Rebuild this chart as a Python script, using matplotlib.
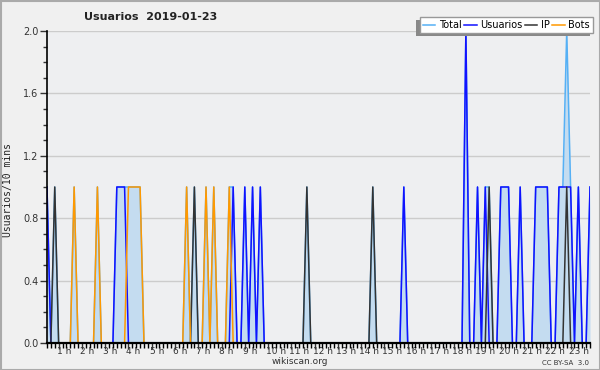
import numpy as np
import matplotlib
matplotlib.use("Agg")
import matplotlib.pyplot as plt
from matplotlib.patches import Rectangle
from matplotlib.transforms import ScaledTranslation

# ---- data (10-minute slots starting 00:30, 141 points) ----
n_slots = 141
start_hour = 0.5
usuarios_ones = [0, 18, 19, 20, 48, 51, 53, 55, 92, 111, 113, 117, 118, 119,
                 122, 126, 127, 128, 129, 132, 133, 134, 135, 137, 140]
usuarios_twos = [108]
ip_ones = [2, 38, 67, 84, 114, 134]
bots_ones = [7, 13, 21, 22, 23, 24, 36, 41, 43, 47]
hour_ticks = list(range(1, 24))
hour_labels = [f"{h} h" for h in hour_ticks]
y_ticks = [0.0, 0.4, 0.8, 1.2, 1.6, 2.0]

usuarios = np.zeros(n_slots)
usuarios[usuarios_ones] = 1
usuarios[usuarios_twos] = 2
ip = np.zeros(n_slots)
ip[ip_ones] = 1
bots = np.zeros(n_slots)
bots[bots_ones] = 1
total = usuarios + ip + bots
x = start_hour + np.arange(n_slots) / 6.0

c_total = "#55b0f5"
c_users = "#1111ff"
c_ip = "#333333"
c_bots = "#ff9900"

fig = plt.figure(figsize=(6, 3.7), dpi=100, facecolor="#f0f0f0")
ax = fig.add_axes([47 / 600, 27 / 370, 543 / 600, 312 / 370])
ax.set_facecolor("#eeeff1")

ax.fill_between(x, 0, total, color="#c4dcf0", lw=0, zorder=1)
ax.plot(x, total, color=c_total, lw=1.1, label="Total", zorder=3)
ax.plot(x, usuarios, color=c_users, lw=1.1, label="Usuarios", zorder=4)
ax.plot(x, ip, color=c_ip, lw=1.1, label="IP", zorder=5)
ax.plot(x, bots, color=c_bots, lw=1.1, label="Bots", zorder=6)

ax.set_xlim(x[0], x[-1])
ax.set_ylim(0, 2.0)
for sp in ("top", "right"):
    ax.spines[sp].set_visible(False)
ax.spines["left"].set_linewidth(1.2)
ax.spines["bottom"].set_linewidth(1.6)
for sp in ("left", "bottom"):
    ax.spines[sp].set_color("black")
    ax.spines[sp].set_zorder(10)

ax.set_yticks(y_ticks)
ax.set_yticklabels([f"{v:.1f}" for v in y_ticks])
ax.set_yticks(np.arange(0, 2.01, 0.1), minor=True)
ax.grid(axis="y", which="major", color="#cccccc", lw=1, zorder=0)
ax.set_axisbelow(True)

ax.set_xticks(hour_ticks)
ax.set_xticklabels(hour_labels)
ax.set_xticks(x, minor=True)
ax.tick_params(axis="y", which="major", length=5, width=1, labelsize=7,
               colors="#333333", pad=1)
ax.tick_params(axis="y", which="minor", length=3, width=1, color="#333333")
ax.tick_params(axis="x", which="major", length=4.5, width=1, labelsize=6.5,
               colors="#333333", pad=-1.5)
ax.tick_params(axis="x", which="minor", length=3.5, width=1, color="black")
off = ScaledTranslation(-1.5 / 72, 0, fig.dpi_scale_trans)
for lab in ax.get_xticklabels():
    lab.set_horizontalalignment("left")
    lab.set_transform(lab.get_transform() + off)

fig.text(151 / 600, 1 - 17 / 370, "Usuarios  2019-01-23", ha="center",
         va="center", fontsize=8, fontweight="bold", color="#222222")
fig.text(8 / 600, 1 - 190 / 370, "Usuarios/10 mins", rotation=90,
         ha="center", va="center", fontsize=7, family="DejaVu Sans Mono",
         color="#222222")
fig.text(300 / 600, 1 - 362 / 370, "wikiscan.org", ha="center", va="center",
         fontsize=6.5, color="#333333")
fig.text(589 / 600, 1 - 363 / 370, "CC BY-SA  3.0", ha="right", va="center",
         fontsize=5, color="#333333")

leg = ax.legend(loc="upper right", bbox_to_anchor=(593 / 600, 1 - 17 / 370),
                bbox_transform=fig.transFigure, ncol=4, fontsize=7,
                handlelength=1.3, handletextpad=0.4, columnspacing=0.2,
                borderpad=0.3, borderaxespad=0, fancybox=False,
                framealpha=1, edgecolor="#999999", facecolor="white")
leg.get_frame().set_linewidth(1)
leg.set_zorder(20)

fig.canvas.draw()
bb = leg.get_window_extent()
shadow = Rectangle((bb.x0 - 3.5, bb.y0 - 3.5), bb.width, bb.height,
                   transform=None, facecolor="#888888", edgecolor="none",
                   zorder=19, clip_on=False)
ax.add_patch(shadow)

fig.patches.append(Rectangle((0.5, 0.5), 599, 369, transform=None,
                             fill=False, edgecolor="#aaaaaa", lw=1.5))

fig.savefig("out.png", dpi=100, facecolor=fig.get_facecolor())
